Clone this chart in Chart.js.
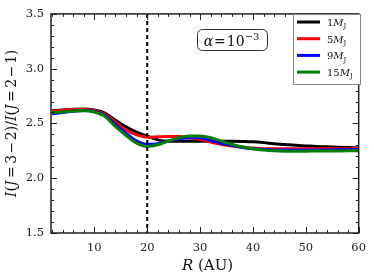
<!DOCTYPE html>
<html><head><meta charset="utf-8">
<script src="https://cdn.jsdelivr.net/npm/chart.js@4"></script>
<style>html,body{margin:0;padding:0;background:#fff}#wrap{width:374px;height:280px}</style>
</head><body><div id="wrap"><canvas id="c" width="374" height="280"></canvas></div>
<script>
const radius = [2,4,6,8,10,12,14,16,18,20,22,24,26,28,30,32,34,36,38,40,42,44,46,48,50,52,54,56,58,60];
const mass1 = [2.615,2.622,2.630,2.633,2.622,2.595,2.53,2.47,2.42,2.385,2.35,2.338,2.338,2.338,2.338,2.338,2.338,2.337,2.335,2.332,2.325,2.315,2.308,2.30,2.295,2.29,2.287,2.283,2.28,2.277];
const mass5 = [2.612,2.62,2.627,2.628,2.617,2.585,2.51,2.44,2.395,2.375,2.378,2.382,2.38,2.368,2.355,2.33,2.31,2.295,2.285,2.275,2.27,2.27,2.27,2.27,2.27,2.27,2.27,2.27,2.27,2.272];
const mass9 = [2.588,2.60,2.612,2.618,2.61,2.575,2.49,2.41,2.34,2.31,2.315,2.34,2.36,2.37,2.37,2.345,2.32,2.30,2.28,2.268,2.262,2.258,2.257,2.257,2.257,2.258,2.258,2.26,2.26,2.262];
const mass15 = [2.60,2.605,2.613,2.615,2.605,2.565,2.47,2.39,2.32,2.29,2.305,2.34,2.37,2.385,2.385,2.37,2.34,2.31,2.285,2.27,2.257,2.25,2.247,2.247,2.247,2.248,2.248,2.249,2.25,2.25];
const seriesMass = ["1","5","9","15"];
const seriesColors = ["#000000","#ff0000","#0000ff","#008000"];
const xTicks = [10,20,30,40,50,60];
const yTicks = [1.5,2.0,2.5,3.0,3.5];
const gapRadius = 20;
const alphaExp = "−3";

const serif = "'DejaVu Serif', 'Liberation Serif', serif";
const allSeries = [mass1, mass5, mass9, mass15];
const datasets = allSeries.map((vals, i) => ({
  label: seriesMass[i] + "MJ",
  data: radius.map((r, k) => ({x: r, y: vals[k]})),
  borderColor: seriesColors[i],
  borderWidth: 3,
  pointRadius: 0,
  fill: false,
  cubicInterpolationMode: 'monotone',
  order: 3 - i
}));

function drawRich(ctx, parts, x, y, size) {
  let cx = x;
  for (const p of parts) {
    const [t, it, mode, gap] = p;
    const fs = mode === 'n' ? size : Math.round(size * 0.7);
    ctx.font = (it ? 'italic ' : '') + fs + 'px ' + serif;
    let dy = 0;
    if (mode === 'sub') dy = size * 0.22;
    if (mode === 'sup') dy = -size * 0.42;
    cx += (gap || 0);
    ctx.fillText(t, cx, y + dy);
    cx += ctx.measureText(t).width + (gap || 0);
  }
  return cx - x;
}
function richWidth(ctx, parts, size) {
  let w = 0;
  for (const p of parts) {
    const [t, it, mode, gap] = p;
    const fs = mode === 'n' ? size : Math.round(size * 0.7);
    ctx.font = (it ? 'italic ' : '') + fs + 'px ' + serif;
    w += ctx.measureText(t).width + 2 * (gap || 0);
  }
  return w;
}

const decor = {
  id: 'decor',
  afterDraw(chart) {
    const ctx = chart.ctx;
    const a = chart.chartArea;
    const xs = chart.scales.x, ys = chart.scales.y;
    ctx.save();
    const gx = xs.getPixelForValue(gapRadius);
    ctx.strokeStyle = '#000'; ctx.lineWidth = 2; ctx.setLineDash([4,3]);
    ctx.beginPath(); ctx.moveTo(gx, a.top); ctx.lineTo(gx, a.bottom); ctx.stroke();
    ctx.setLineDash([]);
    ctx.strokeStyle = '#222'; ctx.lineWidth = 1.5;
    ctx.strokeRect(a.left, a.top, a.right - a.left, a.bottom - a.top);
    ctx.lineWidth = 1;
    ctx.beginPath();
    for (let v = 2; v <= 60.001; v += 2) {
      const px = Math.round(xs.getPixelForValue(v)) + 0.5;
      const major = xTicks.some(t => Math.abs(t - v) < 1e-6);
      const L = major ? 6 : 3;
      ctx.moveTo(px, a.bottom); ctx.lineTo(px, a.bottom - L);
      ctx.moveTo(px, a.top); ctx.lineTo(px, a.top + L);
    }
    for (let k = 15; k <= 35; k++) {
      const v = k / 10;
      const py = Math.round(ys.getPixelForValue(v)) + 0.5;
      const major = k % 5 === 0;
      const L = major ? 6 : 3;
      ctx.moveTo(a.left, py); ctx.lineTo(a.left + L, py);
      ctx.moveTo(a.right, py); ctx.lineTo(a.right - L, py);
    }
    ctx.stroke();
    // alpha box
    ctx.fillStyle = '#fff'; ctx.strokeStyle = '#333'; ctx.lineWidth = 1;
    ctx.beginPath(); ctx.roundRect(197.5, 29.5, 70, 21, 5); ctx.fill(); ctx.stroke();
    ctx.fillStyle = '#111'; ctx.textBaseline = 'alphabetic'; ctx.textAlign = 'left';
    const aparts = [['α', true, 'n'], ['=', false, 'n', 1], ['10', false, 'n'], [alphaExp, false, 'sup']];
    const aw = richWidth(ctx, aparts, 14);
    drawRich(ctx, aparts, 231.5 - aw / 2, 45.5, 14);
    // legend
    ctx.fillStyle = '#fff'; ctx.strokeStyle = '#888';
    ctx.fillRect(293, 14, 67, 70); ctx.strokeRect(293.5, 14.5, 67, 70);
    chart.data.datasets.forEach((ds, i) => {
      const ly = 22 + i * 16.7;
      ctx.strokeStyle = ds.borderColor; ctx.lineWidth = 3;
      ctx.beginPath(); ctx.moveTo(297, ly); ctx.lineTo(320, ly); ctx.stroke();
      ctx.fillStyle = '#111';
      drawRich(ctx, [[seriesMass[i], false, 'n'], ['M', true, 'n'], ['J', false, 'sub']], 327, ly + 4, 10);
    });
    // x title
    ctx.fillStyle = '#111';
    const xparts = [['R', true, 'n'], [' (AU)', false, 'n']];
    const xw = richWidth(ctx, xparts, 15);
    drawRich(ctx, xparts, 207.5 - xw / 2, 270, 15);
    // y title
    ctx.save();
    ctx.translate(15.5, (a.top + a.bottom) / 2);
    ctx.rotate(-Math.PI / 2);
    const yparts = [['I', true, 'n'], ['(', false, 'n'], ['J', true, 'n'], ['=', false, 'n', 2.5], ['3', false, 'n'], ['−', false, 'n', 1.5], ['2', false, 'n'], [')/', false, 'n'],
      ['I', true, 'n'], ['(', false, 'n'], ['J', true, 'n'], ['=', false, 'n', 2.5], ['2', false, 'n'], ['−', false, 'n', 1.5], ['1', false, 'n'], [')', false, 'n']];
    const yw = richWidth(ctx, yparts, 14);
    drawRich(ctx, yparts, -yw / 2, 0, 14);
    ctx.restore();
    ctx.restore();
  }
};

new Chart(document.getElementById('c'), {
  type: 'line',
  data: { datasets },
  options: {
    responsive: false, animation: false,
    layout: { padding: { top: 9, right: 11, left: 0, bottom: 0 } },
    plugins: { legend: { display: false }, tooltip: { enabled: false } },
    scales: {
      x: {
        type: 'linear', min: 1.8, max: 60,
        grid: { display: false, drawTicks: false }, border: { display: false },
        afterBuildTicks: s => { s.ticks = xTicks.map(v => ({ value: v })); },
        afterFit: s => { s.height = 47; },
        ticks: { color: '#222', padding: 8, font: { family: serif, size: 11.5 }, callback: v => String(v), maxRotation: 0 }
      },
      y: {
        type: 'linear', min: 1.5, max: 3.5,
        grid: { display: false, drawTicks: false }, border: { display: false },
        afterBuildTicks: s => { s.ticks = yTicks.map(v => ({ value: v })); },
        afterFit: s => { s.width = 51; },
        ticks: { color: '#222', padding: 7, font: { family: serif, size: 11.5 }, callback: v => Number(v).toFixed(1) }
      }
    }
  },
  plugins: [decor]
});
</script>
</body></html>
